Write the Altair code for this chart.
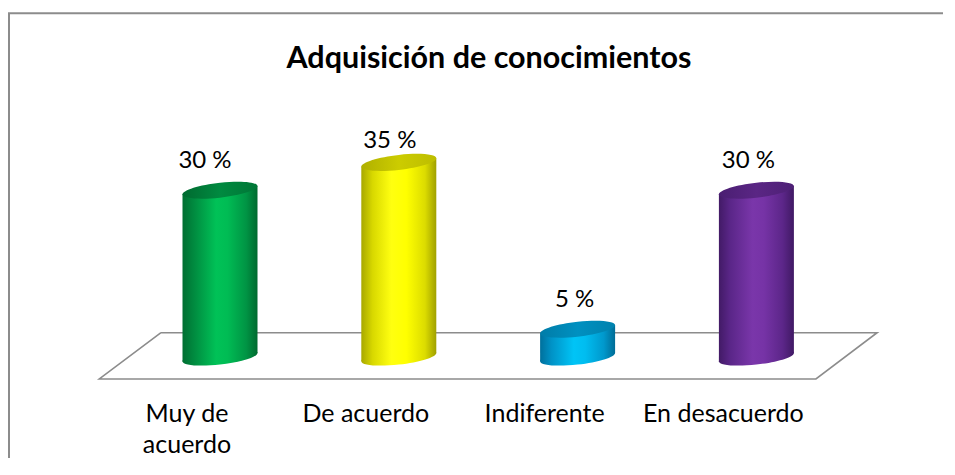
import altair as alt
import pandas as pd

# ---------------- data ----------------
categories = ["Muy de acuerdo", "De acuerdo", "Indiferente", "En desacuerdo"]
axis_labels = ["Muy de\nacuerdo", "De acuerdo", "Indiferente", "En desacuerdo"]
values = [30, 35, 5, 30]
value_labels = ["30 %", "35 %", "5 %", "30 %"]
title_text = "Adquisición de conocimientos"

# ---------------- layout / style ----------------
W, H = 935, 450
PX_X = 178.8          # pixels per category step
X0 = 212.0            # pixel position of the first category
PX_Y = 5.56           # pixels per percent
Y0 = 349.0            # pixel position of the 0 % level
X_DOMAIN = [-X0 / PX_X, (W - X0) / PX_X]
Y_DOMAIN = [-(H - Y0) / PX_Y, Y0 / PX_Y]
CYL_W = 75.0
HALF_X = CYL_W / 2 / PX_X
SHEAR = 0.11
RY = 0.2
TILT = SHEAR * CYL_W / 2 / PX_Y

# floor plane (in the chart's own x/y units)
FLOOR_BACK_Y, FLOOR_FRONT_Y = 4.37, -3.95
FLOOR_BACK_X = [-0.33, 3.675]
FLOOR_FRONT_X = [-0.675, 3.333]

LABEL_DX = [-15, -9, -3, -8]
LABEL_DY = [-22, -14, -22, -22]
CAT_DX = -33
FONT = "Lato"
GRAY = "#8c8c8c"

body_stops = [
    [(0, "#006F32"), (0.15, "#008A3F"), (0.45, "#00C257"), (0.6, "#00BC54"), (0.85, "#009444"), (1, "#006A2F")],
    [(0, "#A8A800"), (0.15, "#D8D800"), (0.4, "#FFFF10"), (0.6, "#FFFF00"), (0.85, "#DCDC00"), (1, "#A0A000")],
    [(0, "#00709C"), (0.15, "#0092C6"), (0.45, "#00C4F6"), (0.6, "#00BDF0"), (0.85, "#0098CC"), (1, "#006C96")],
    [(0, "#421A66"), (0.15, "#5A2688"), (0.45, "#7A36AA"), (0.6, "#7633A6"), (0.85, "#5C2689"), (1, "#401964")],
]
top_stops = [
    [(0, "#006A30"), (0.5, "#008A40"), (1, "#007636")],
    [(0, "#B0B000"), (0.5, "#CCCC00"), (1, "#BDBD00")],
    [(0, "#007CA8"), (0.5, "#0090C0"), (1, "#0082AE")],
    [(0, "#4A1E72"), (0.5, "#5A2684"), (1, "#4E2076")],
]


def grad(stops):
    return alt.LinearGradient(
        gradient="linear",
        stops=[alt.GradientStop(offset=o, color=c) for o, c in stops],
        x1=0, x2=1, y1=0, y2=0,
    )


def ellipse_path(r=RY, k=SHEAR, c=0.5523):
    segs = [
        [(1, c * r), (c, r), (0, r)],
        [(-c, r), (-1, c * r), (-1, 0)],
        [(-1, -c * r), (-c, -r), (0, -r)],
        [(c, -r), (1, -c * r), (1, 0)],
    ]

    def t(p):
        return f"{p[0]:.4f} {p[1] - k * p[0]:.4f}"

    s = "M " + t((1, 0))
    for seg in segs:
        s += " C " + " ".join(t(p) for p in seg)
    return s + " Z"


ELL = ellipse_path()

xs = alt.Scale(domain=X_DOMAIN, nice=False, zero=False)
ys = alt.Scale(domain=Y_DOMAIN, nice=False, zero=False)

df = pd.DataFrame({
    "idx": list(range(len(categories))),
    "category": categories,
    "axis_label": axis_labels,
    "value": values,
    "label": value_labels,
    "zero": [0] * len(values),
})

body_rows = []
for i, v in enumerate(values):
    for side in (-1, 1):
        body_rows.append({"idx": i, "bx": i + side * HALF_X,
                          "ytop": v + side * TILT, "ybot": side * TILT})
body_df = pd.DataFrame(body_rows)

floor_df = pd.DataFrame({
    "o": [0, 1, 2, 3, 4],
    "fx": [FLOOR_BACK_X[0], FLOOR_BACK_X[1], FLOOR_FRONT_X[1], FLOOR_FRONT_X[0], FLOOR_BACK_X[0]],
    "fy": [FLOOR_BACK_Y, FLOOR_BACK_Y, FLOOR_FRONT_Y, FLOOR_FRONT_Y, FLOOR_BACK_Y],
})

one = pd.DataFrame({"t": [title_text]})

layers = []

# frame (top and left edges; the rest lies outside the window)
layers.append(
    alt.Chart(one).mark_rule(stroke=GRAY, strokeWidth=2).encode(
        x=alt.value(1), y=alt.value(5.3), y2=alt.value(H)
    )
)
layers.append(
    alt.Chart(one).mark_rule(stroke=GRAY, strokeWidth=2).encode(
        x=alt.value(0), x2=alt.value(W), y=alt.value(5.3)
    )
)

# floor
layers.append(
    alt.Chart(floor_df).mark_line(stroke=GRAY, strokeWidth=1.6).encode(
        x=alt.X("fx:Q", scale=xs, axis=None),
        y=alt.Y("fy:Q", scale=ys, axis=None),
        order="o:O",
    )
)

for i in range(len(categories)):
    sel = f"datum.idx == {i}"
    layers.append(
        alt.Chart(df).transform_filter(sel).mark_point(
            shape=ELL, filled=True, fill=grad(body_stops[i]), size=CYL_W ** 2,
            opacity=1, strokeWidth=0,
        ).encode(
            x=alt.X("idx:Q", scale=xs, axis=None),
            y=alt.Y("zero:Q", scale=ys, axis=None),
        )
    )
    layers.append(
        alt.Chart(body_df).transform_filter(sel).mark_area(
            fill=grad(body_stops[i]), opacity=1, line=False,
        ).encode(
            x=alt.X("bx:Q", scale=xs, axis=None),
            y=alt.Y("ytop:Q", scale=ys, axis=None),
            y2="ybot:Q",
        )
    )
    layers.append(
        alt.Chart(df).transform_filter(sel).mark_point(
            shape=ELL, filled=True, fill=grad(top_stops[i]), size=CYL_W ** 2,
            opacity=1, strokeWidth=0,
        ).encode(
            x=alt.X("idx:Q", scale=xs, axis=None),
            y=alt.Y("value:Q", scale=ys, axis=None),
        )
    )
    layers.append(
        alt.Chart(df).transform_filter(sel).mark_text(
            font=FONT, fontSize=24, color="#000000", align="center",
            baseline="alphabetic", dx=LABEL_DX[i], dy=LABEL_DY[i],
        ).encode(
            x=alt.X("idx:Q", scale=xs, axis=None),
            y=alt.Y("value:Q", scale=ys, axis=None),
            text="label:N",
        )
    )

# category labels
layers.append(
    alt.Chart(df).mark_text(
        font=FONT, fontSize=25, color="#000000", align="center",
        baseline="alphabetic", lineBreak="\n", lineHeight=31.7, dx=CAT_DX,
    ).encode(
        x=alt.X("idx:Q", scale=xs, axis=None),
        y=alt.value(413.7),
        text="axis_label:N",
    )
)

# title
layers.append(
    alt.Chart(one).mark_text(
        font=FONT, fontSize=30.5, fontWeight="bold", color="#000000",
        align="center", baseline="alphabetic",
    ).encode(x=alt.value(481), y=alt.value(59.5), text="t:N")
)

chart = alt.layer(*layers).properties(
    width=W, height=H, padding=0,
    autosize=alt.AutoSizeParams(type="none"),
    background="white",
).configure_view(stroke=None)

chart.save("out.html", embed_options={"renderer": "svg", "actions": False})
